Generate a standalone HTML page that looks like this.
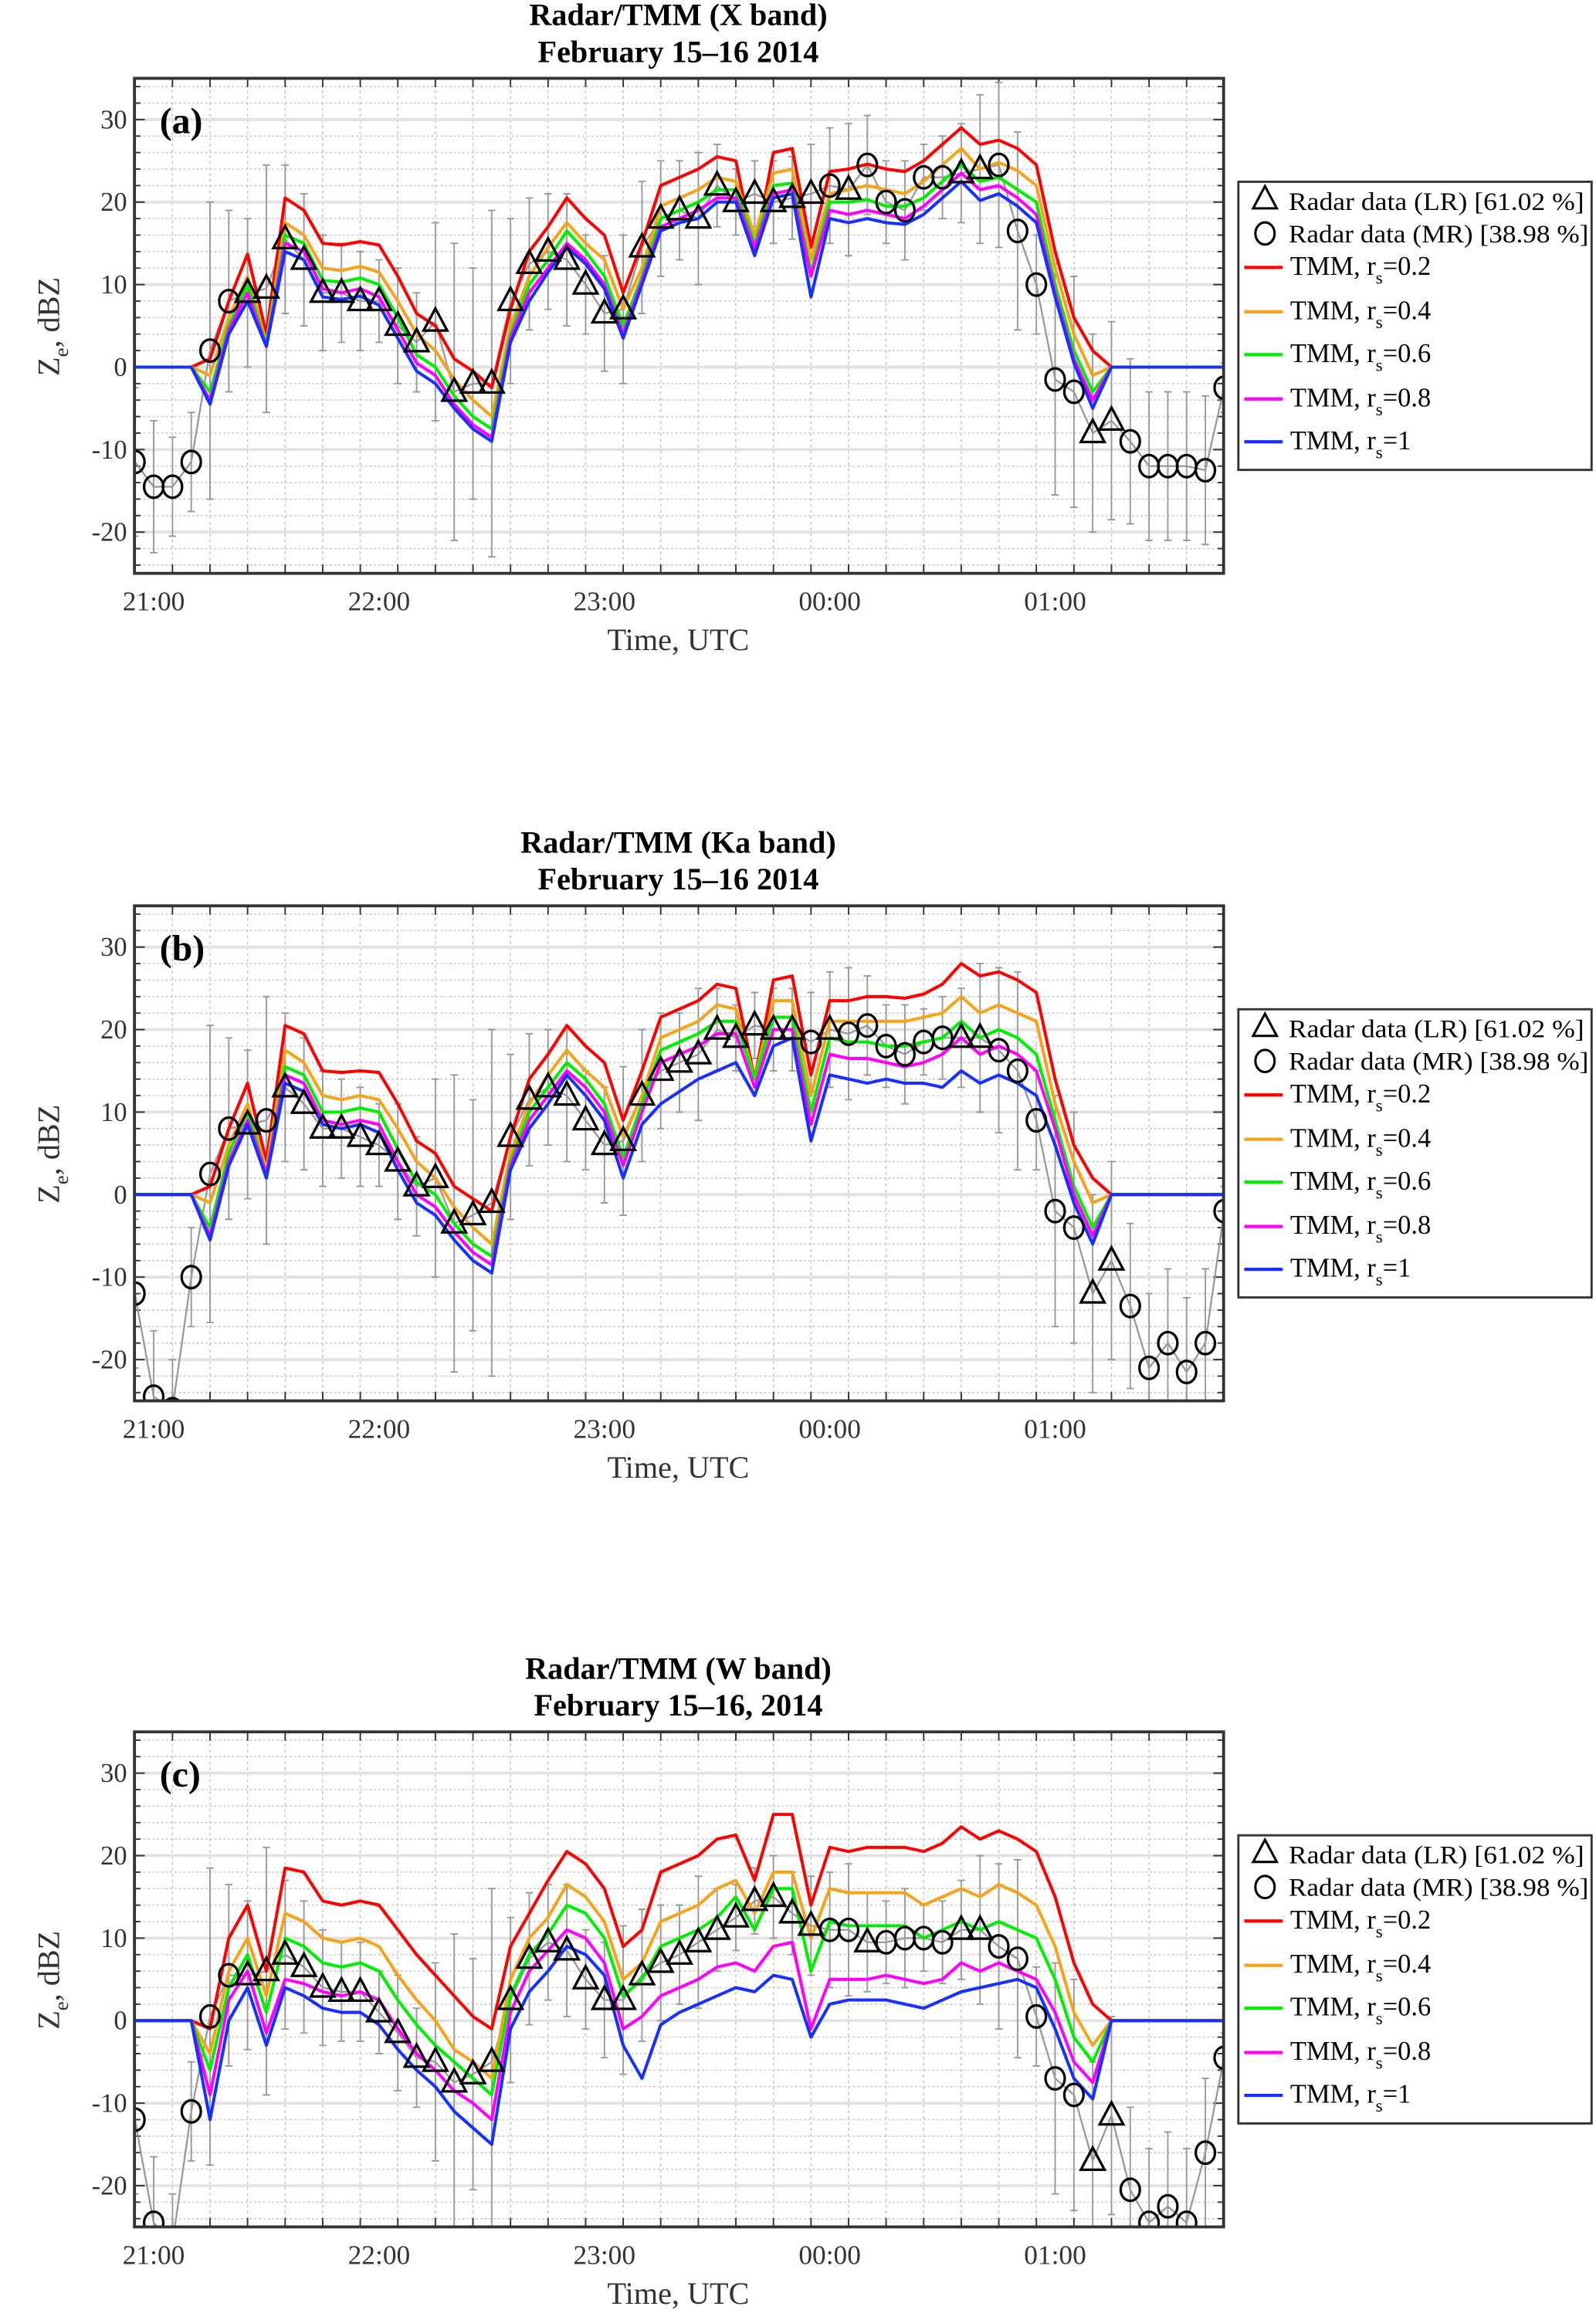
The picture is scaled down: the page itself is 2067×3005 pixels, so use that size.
<!DOCTYPE html>
<html><head><meta charset="utf-8"><style>
html,body{margin:0;padding:0;background:#fff;}
svg{display:block;font-family:"Liberation Serif",serif;}
</style></head><body>
<svg id="fig" width="2067" height="3005" viewBox="0 0 1080 1570" preserveAspectRatio="none" xmlns="http://www.w3.org/2000/svg"></svg>
<script>
// ---- data (dBZ per 5-min step from 20:55) ----
const startMinute = -5, stepMinutes = 5;
const xTickLabels = ["21:00","22:00","23:00","00:00","01:00"];
const yTicks = [-20,-10,0,10,20,30];
const seriesNames = ["TMM, r=0.2","TMM, r=0.4","TMM, r=0.6","TMM, r=0.8","TMM, r=1"];
const seriesParams = ["0.2","0.4","0.6","0.8","1"];

const redA=[0,0,0,0,1,8,13.7,4,20.5,19,15,14.8,15.2,14.8,11,6.5,5,1,-0.5,-2.5,7,14,17,20.5,18,16,9,15,22,23,24,25.5,25,14,26,26.5,14.5,23.7,24,24.6,24,23.7,25,27,29,27,27.5,26.5,24.5,14,6,2,0,0,0,0,0,0,0];
const orangeA=[0,0,0,0,-1,6,11,3,17.5,16,12,11.7,12.2,11.5,8,4,2,-1.5,-4,-6,5,11,14.5,17.5,15,13,7,12,19.5,20.5,21.5,23,22.5,16,23.5,24,13,21,21.5,22,21.5,21,22.5,24.5,26.5,24,24.8,23.8,22,12,4,-1,0,0,0,0,0,0,0];
const greenA=[0,0,0,0,-3,5,10,2.7,16,15,10.5,10.3,10.8,10,6,1.5,0,-3.5,-6,-7.5,4,10,13,16.5,14,11,5,11,18,19,20,21.5,21.5,15,22,22.3,11.5,20,20,20.3,19.5,19.5,20.5,22.5,24.5,22.5,23,21.5,20,10,2,-3,0,0,0,0,0,0,0];
const magentaA=[0,0,0,0,-4,4.5,9,2.5,15,14,9.5,9,9.5,8.5,4.5,0.5,-1,-4.5,-7,-8.5,3.5,9,12,15,13,10,4,10.5,17,18,19,20.5,20.5,14.5,21,21.5,11,19,18.5,19,18.5,18,19.5,21.5,23.5,21.5,22,20.5,18.5,9,1,-4,0,0,0,0,0,0,0];
const blueA=[0,0,0,0,-4.5,4,8,2.5,14,13,8.5,8.2,8.6,7.5,3.5,-0.5,-2,-5,-7.5,-9,3,8,11.5,14.5,12.5,9.5,3.5,10,16.5,17.5,18,20,20,13.5,20.5,21,8.5,18,17.5,18,17.5,17.3,18.5,20.5,22.5,20.2,21,19.5,17.5,8.5,0.5,-5,0,0,0,0,0,0,0];
const radarA=[-11.5,-14.5,-14.5,-11.5,2,8,9,9.5,15.5,13,9,9,8,8,5,3,5.5,-3,-2,-2,8,12.5,14,13,10,6.5,7,14.5,18,19,18,22,20,21,20,20.5,21,22,21.5,24.5,20,19,23,23,23.5,24,24.5,16.5,10,-1.5,-3,-8,-6.5,-9,-12,-12,-12,-12.5,-2.5];
const typeA=["c","c","c","c","c","c","t","t","t","t","t","t","t","t","t","t","t","t","t","t","t","t","t","t","t","t","t","t","t","t","t","t","t","t","t","t","t","c","t","c","c","c","c","c","t","t","c","c","c","c","c","t","t","c","c","c","c","c","c"];

const redB=[0,0,0,0,1,8,13.5,4,20.5,19.5,15,14.8,15,14.8,11,6.5,5,1,-0.5,-2,7,14,17,20.5,18,16,9,15,21.5,22.5,23.5,25.5,25,14,26,26.5,14.5,23.5,23.5,24,24,23.8,24.3,25.5,28,26.5,27,26,24.5,14,6,2,0,0,0,0,0,0,0];
const orangeB=[0,0,0,0,-1,6,11,3,17.5,16,12,11.5,12,11.5,8,4,2,-1.5,-4,-6,5,11,14.5,17.5,15,13,7,12,19,20,21,23,22.5,14,23.5,23.5,12,21,21,21,21,21,21.5,22,24,22,23,22,21,11,4,-1,0,0,0,0,0,0,0];
const greenB=[0,0,0,0,-4,5,10,2.5,15.5,14.5,10,10,10.5,10,5.5,1.5,0,-3.5,-6,-7.5,4,10,13,16,14,11,4.5,11,17.5,18.5,19.5,21,21,14,21.5,21.5,10,19,18.5,18.5,18,18,18.5,19,21,19,20,19,17,9,1,-4,0,0,0,0,0,0,0];
const magentaB=[0,0,0,0,-5,4,9,2.5,14.5,13.5,9,8.5,9,8.5,4,0,-1.5,-4.5,-7,-8.5,3.5,9,12,15,13,10,3.5,10,16,17,18,19.5,19.5,13,20,20,8.5,17,16.5,16.5,16,15.5,16,17,19,17,18,17,15,8,0,-5,0,0,0,0,0,0,0];
const blueB=[0,0,0,0,-5.5,3.5,8.5,2,13.5,12.5,8.5,8,8.5,7.5,3,-1,-2.5,-5.5,-8,-9.5,3,8,11,14.5,12,9,2,8.5,11,12.5,14,15,16,12,18,19,6.5,14.5,14,13.5,14,13.5,13.5,13,15,13.5,14.5,13.5,12,6,-1,-6,0,0,0,0,0,0,0];
const radarB=[-12,-24.5,-26,-10,2.5,8,8.5,9,13,11,8,8,7,6,4,1,2,-3.5,-2.5,-1,7,11.5,13,12,9,6,6.5,12,15,16,17,20,19,20.5,20,20,18.5,20,19.5,20.5,18,17,18.5,19,19,19,17.5,15,9,-2,-4,-12,-8,-13.5,-21,-18,-21.5,-18,-2];
const typeB=["c","c","c","c","c","c","t","c","t","t","t","t","t","t","t","t","t","t","t","t","t","t","t","t","t","t","t","t","t","t","t","t","t","t","t","t","c","t","c","c","c","c","c","c","t","t","c","c","c","c","c","t","t","c","c","c","c","c","c"];

const redC=[0,0,0,0,-1,10,14,6,18.5,18,14.5,14,14.5,14,11,8,5.5,3,0.5,-1,9,13,17,20.5,19,16,9,11,18,19,20,22,22.5,17,25,25,14,21,20.5,21,21,21,20.5,21.5,23.5,22,23,22,20.5,15,7,2,0,0,0,0,0,0,0];
const orangeC=[0,0,0,0,-4,6,10,3,13,12,10,9.5,10,9,5.5,2.5,0,-3.5,-5,-7,5,10,12.5,16.5,15,12,5,7,12,13,14,16,17,13,18,18,10,16,15.5,15.5,15.5,15.5,14,15,16,15,16.5,15.5,14,9,1,-3,0,0,0,0,0,0,0];
const greenC=[0,0,0,0,-6,4,8,1,10,9,7,6.5,7,6,2.5,-0.5,-3,-5,-7,-9,3,8,10.5,14,13,10,3,5,9,10,11,12.5,15,11,16,16,6,12,11.5,11.5,11.5,11.5,10,11,12,11,12,11,10,5,-2,-5,0,0,0,0,0,0,0];
const magentaC=[0,0,0,0,-9,2.5,6,-1.5,5,4.5,3.5,3,3.5,2.5,-1,-4,-6,-8.5,-10,-12,1,6,8.5,11,10,7,-1,0.5,3,4,5,6.5,7,6,9,9.5,-1,5,5,5,5.5,5,4.5,5,7,6,7,6,5,1,-5,-7.5,0,0,0,0,0,0,0];
const blueC=[0,0,0,0,-12,0,4,-3,4,3,1.5,1,1,-0.5,-3.5,-6,-8,-11,-13,-15,-1,3.5,6,9,8,5.5,-3,-7,-0.5,1,2,3,4,3.5,5.5,5,-2,2,2.5,2.5,2.5,2,1.5,2.5,3.5,4,4.5,5,4,-1,-7,-9.5,0,0,0,0,0,0,0];
const radarC=[-12,-24.5,-27,-11,0.5,5.5,5.5,6,8,6.5,4,3.5,3.5,1,-1.5,-4.5,-5,-7.5,-6.5,-5,2.5,7.5,9.5,8.5,5,2.5,2.5,5.5,7,8,9.5,11,12.5,14.5,15,13,11.5,11,11,9.5,9.5,10,10,9.5,11,11,9,7.5,0.5,-7,-9,-17,-11.5,-20.5,-24.5,-22.5,-24.5,-16,-4.5];
const typeC=["c","c","c","c","c","c","t","t","t","t","t","t","t","t","t","t","t","t","t","t","t","t","t","t","t","t","t","t","t","t","t","t","t","t","t","t","t","c","c","t","c","c","c","c","t","t","c","c","c","c","c","t","t","c","c","c","c","c","c"];

const errBars=[9,8,6,6,18,11,9,15,9,8,7,6,6,5,7,6,12,18,14,21,10,8,7,8,6,7,9,8,7,6,8,5,4,4,5,5,6,7,8,6,5,6,4,5,6,9,10,12,6,14,14,12,12,10,9,9,9,9,3];

const panels=[
 {id:"a",top:53,t1:"Radar/TMM (X band)",t2:"February  15–16 2014",lines:[redA,orangeA,greenA,magentaA,blueA],radar:radarA,types:typeA},
 {id:"b",top:613,t1:"Radar/TMM (Ka band)",t2:"February  15–16 2014",lines:[redB,orangeB,greenB,magentaB,blueB],radar:radarB,types:typeB},
 {id:"c",top:1172,t1:"Radar/TMM (W band)",t2:"February  15–16, 2014",lines:[redC,orangeC,greenC,magentaC,blueC],radar:radarC,types:typeC}
];
const colors=["#ff0000","#f7a21b","#00ee00","#ff00ff","#1630ff"];

const NS="http://www.w3.org/2000/svg";
const svg=document.getElementById("fig");
function mk(tag,attrs,parent){const e=document.createElementNS(NS,tag);for(const k in attrs)e.setAttribute(k,attrs[k]);(parent||svg).appendChild(e);return e;}
const L=91,R=828,H=335,YMIN=-25,YMAX=35;
const xScale=m=>104+m*152.5/60;
const idxMinute=i=>startMinute+i*stepMinutes;

panels.forEach((p,pi)=>{
  const g=mk("g",{});
  
  
  const T=p.top,B=T+H;
  const yScale=v=>T+(YMAX-v)*H/(YMAX-YMIN);
  const cp=mk("clipPath",{id:"clip"+p.id},g);mk("rect",{x:L,y:T,width:R-L,height:H},cp);
  const t1=mk("text",{x:459,y:T-36,"text-anchor":"middle","font-size":21,"font-weight":"bold"},g);t1.textContent=p.t1;
  
  
  const t2=mk("text",{x:459,y:T-11,"text-anchor":"middle","font-size":21,"font-weight":"bold"},g);t2.textContent=p.t2;
  
  
  const grid=mk("g",{},g);
  
  
  for(let v=-24;v<=34;v+=2){if(v%10===0)continue;mk("line",{x1:L,x2:R,y1:yScale(v),y2:yScale(v),stroke:"#c8c8c8","stroke-width":0.8,"stroke-dasharray":"1.5,1.5"},grid);}
  for(let m=-5;m<=285;m+=10){mk("line",{x1:xScale(m),x2:xScale(m),y1:T,y2:B,stroke:"#c8c8c8","stroke-width":0.8,"stroke-dasharray":"2,2"},grid);}
  yTicks.forEach(v=>mk("line",{x1:L,x2:R,y1:yScale(v),y2:yScale(v),stroke:"#e2e2e2","stroke-width":2},grid));
  for(let m=-5;m<=285;m+=10){const x=xScale(m);mk("line",{x1:x,x2:x,y1:B,y2:B-6,stroke:"#333","stroke-width":1},g);mk("line",{x1:x,x2:x,y1:T,y2:T+6,stroke:"#333","stroke-width":1},g);}
  for(let v=-24;v<=34;v+=2){const y=yScale(v);const w=v%10===0?7:4;mk("line",{x1:L,x2:L+w,y1:y,y2:y,stroke:"#333","stroke-width":1},g);mk("line",{x1:R,x2:R-w,y1:y,y2:y,stroke:"#333","stroke-width":1},g);}
  yTicks.forEach(v=>{const t=mk("text",{x:L-5,y:yScale(v)+6,"text-anchor":"end","font-size":18,fill:"#333"},g);t.textContent=v;
    
    });
  xTickLabels.forEach((s,k)=>{const t=mk("text",{x:xScale(k*60),y:B+25,"text-anchor":"middle","font-size":18.5,fill:"#333"},g);t.textContent=s;
    
    });
  const xl=mk("text",{x:459,y:B+52,"text-anchor":"middle","font-size":21,fill:"#333"},g);xl.textContent="Time, UTC";
  
  
  const yl=mk("text",{transform:`translate(40,${T+168}) rotate(-90)`,"text-anchor":"middle","font-size":21,fill:"#333"},g);
  yl.innerHTML='Z<tspan font-size="14" dy="6">e</tspan><tspan dy="-6">, dBZ</tspan>';
  
  
  const plot=mk("g",{"clip-path":`url(#clip${p.id})`},g);
  
  
  let d="";
  p.radar.forEach((v,i)=>{const x=xScale(idxMinute(i)),e=errBars[i]||0;
    const eb=mk("path",{d:`M${x},${yScale(v-e)}V${yScale(v+e)}M${x-2.5},${yScale(v-e)}h5M${x-2.5},${yScale(v+e)}h5`,stroke:"#999","stroke-width":1,fill:"none"},plot);
    
    
    d+=(i?"L":"M")+x+","+yScale(v);});
  const cl=mk("path",{d,stroke:"#999","stroke-width":1.2,fill:"none"},plot);
  
  
  p.lines.forEach((arr,si)=>{let dd="";arr.forEach((v,i)=>{dd+=(i?"L":"M")+xScale(idxMinute(i))+","+yScale(v);});
    const pl=mk("path",{d:dd,stroke:colors[si],"stroke-width":2.1,fill:"none","stroke-linejoin":"round"},plot);
    
    });
  p.radar.forEach((v,i)=>{const x=xScale(idxMinute(i)),y=yScale(v);let m;
    if(p.types[i]==="t"){m=mk("path",{d:`M${x},${y-9}L${x+8},${y+6}L${x-8},${y+6}Z`,fill:"none",stroke:"#000","stroke-width":1.7},plot);
      }
    else{m=mk("ellipse",{cx:x,cy:y,rx:6.5,ry:7.5,fill:"none",stroke:"#000","stroke-width":1.7},plot);
      }
    });
  mk("rect",{x:L,y:T,width:R-L,height:H,fill:"none",stroke:"#333","stroke-width":2},g);
  const pl=mk("text",{x:108,y:T+37,"font-size":25,"font-weight":"bold"},g);pl.textContent="("+p.id+")";
  
  
  const lg=mk("g",{},g);
  
  
  const LT=T+70;
  mk("rect",{x:838,y:LT,width:239,height:195,fill:"#fff",stroke:"#333","stroke-width":1.5},lg);
  const tri=mk("path",{d:`M856,${LT+3}L864,${LT+18}L848,${LT+18}Z`,fill:"none",stroke:"#000","stroke-width":1.6},lg);
  
  
  const e1=mk("text",{x:872,y:LT+19,"font-size":17,textLength:200,lengthAdjust:"spacingAndGlyphs"},lg);e1.textContent="Radar data (LR) [61.02 %]";
  
  
  const ci=mk("ellipse",{cx:856,cy:LT+35,rx:6.5,ry:7.5,fill:"none",stroke:"#000","stroke-width":1.6},lg);
  
  
  const e2=mk("text",{x:872,y:LT+41,"font-size":17,textLength:203,lengthAdjust:"spacingAndGlyphs"},lg);e2.textContent="Radar data (MR) [38.98 %]";
  
  
  const ys=[58,88,117,147,176];
  seriesParams.forEach((sp,k)=>{const y=LT+ys[k];
    const ln=mk("line",{x1:842,x2:868,y1:y,y2:y,stroke:colors[k],"stroke-width":2.2},lg);
    
    
    const t=mk("text",{x:873,y:y+5,"font-size":18},lg);
    t.innerHTML='TMM, r<tspan font-size="12" dy="6">s</tspan><tspan dy="-6">=' + sp + '</tspan>';
    
    });
});
</script>
</body></html>
